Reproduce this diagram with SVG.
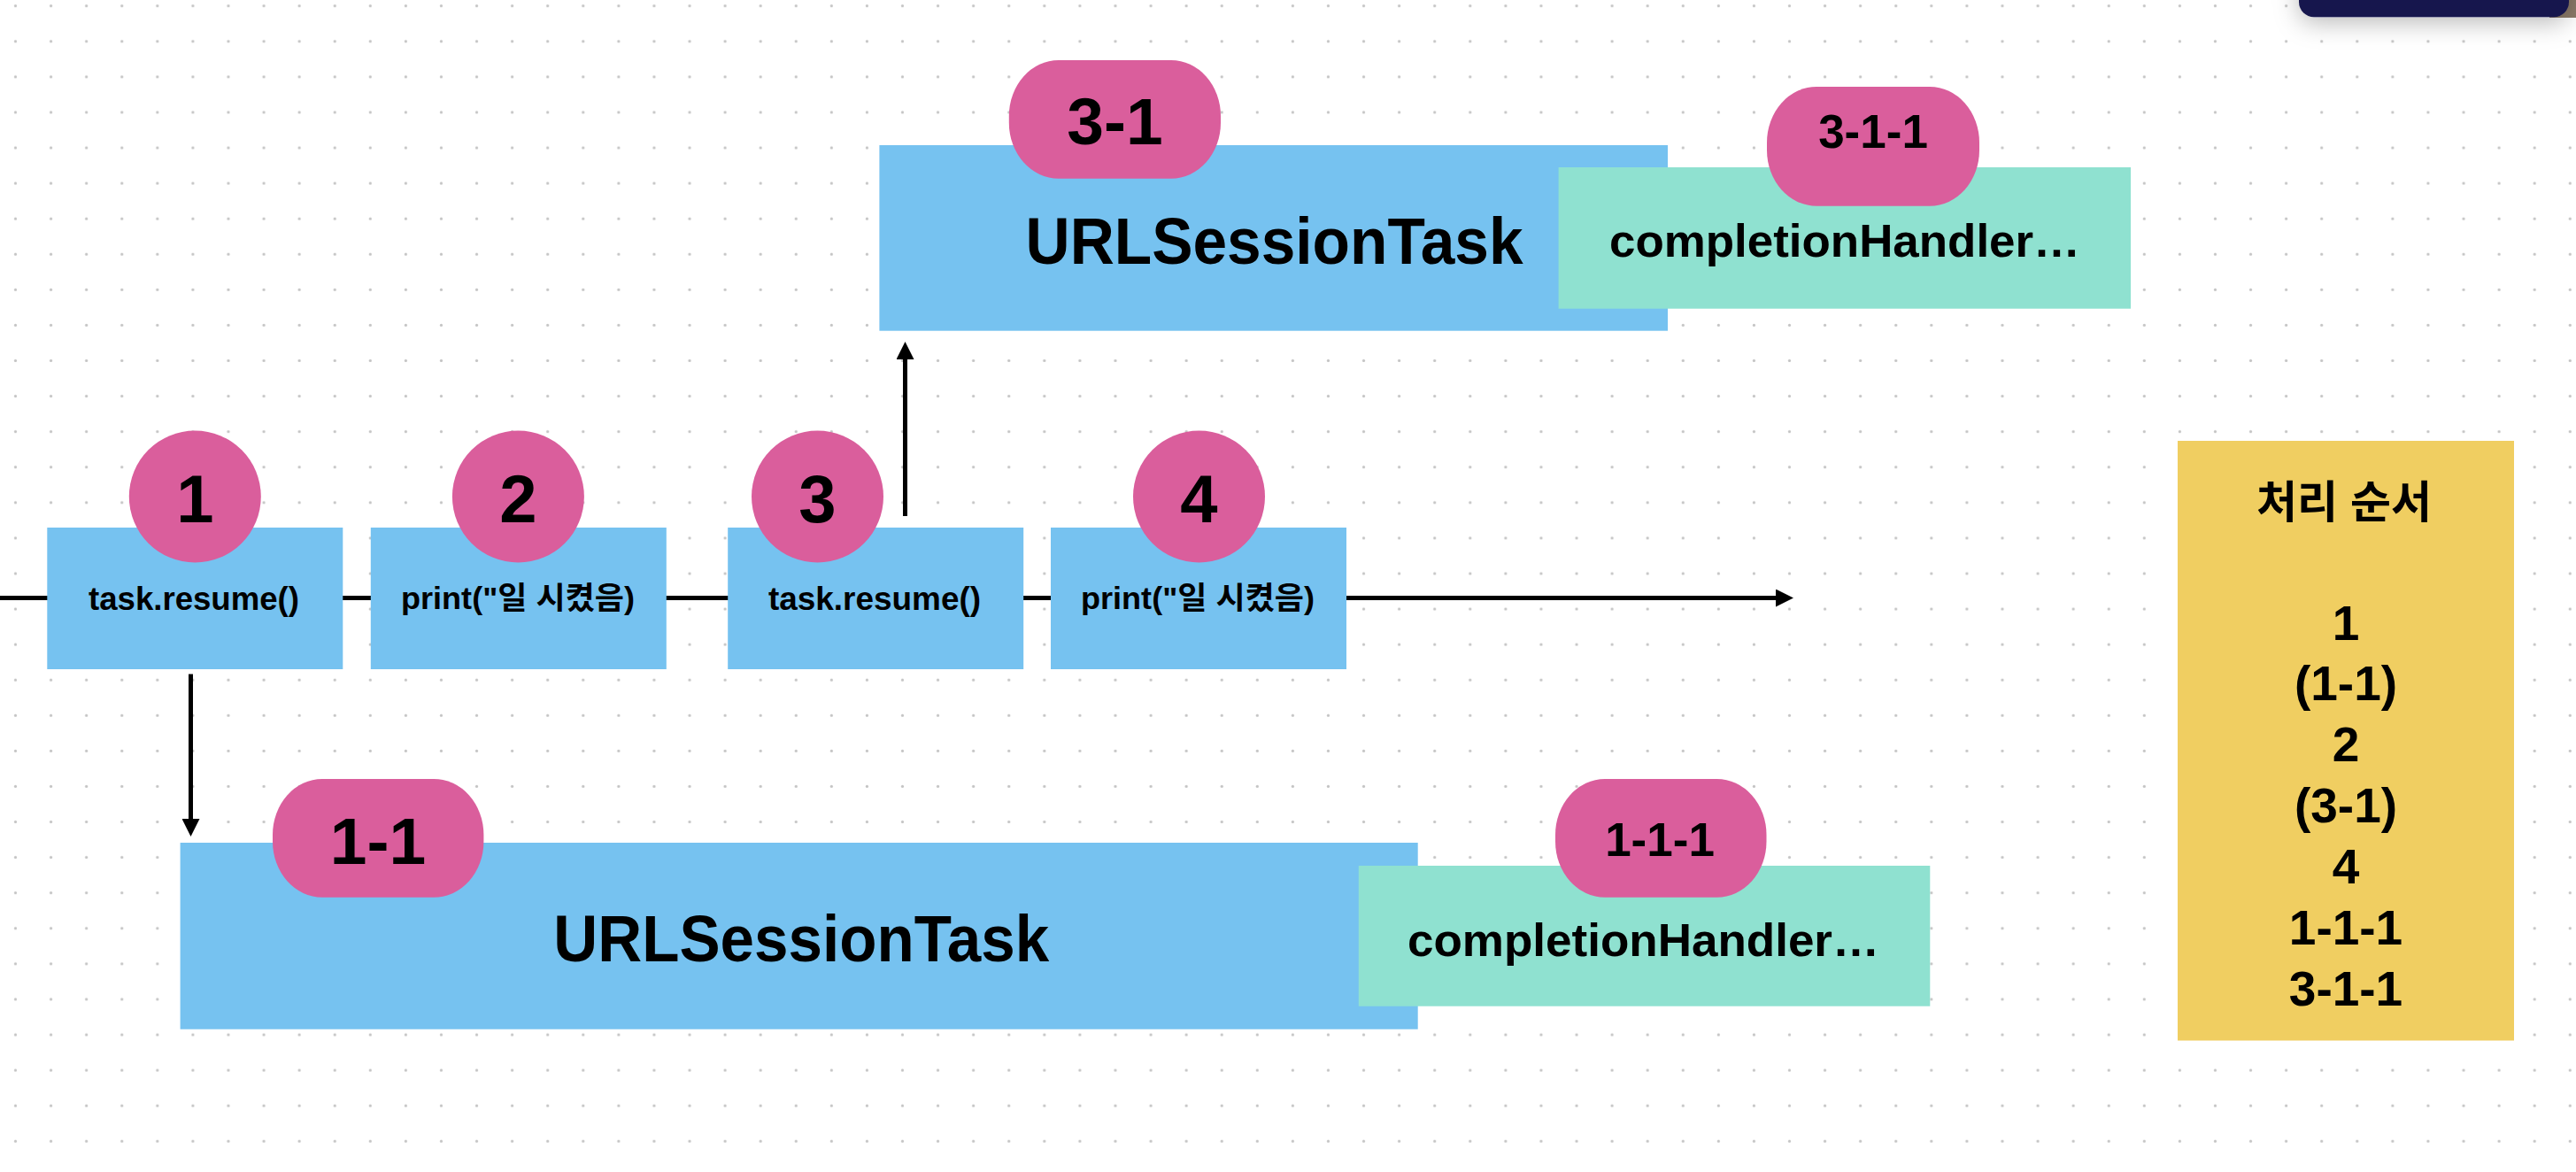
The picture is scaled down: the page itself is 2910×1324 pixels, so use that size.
<svg xmlns="http://www.w3.org/2000/svg" width="2910" height="1324" viewBox="0 0 2910 1324">
<style>
  text { font-family: "Liberation Sans", "Noto Sans CJK KR", sans-serif; font-weight: bold; fill: #000; text-anchor: middle; }
  .blue { fill: #76C2F0; }
  .pink { fill: #DA5E9C; }
  .teal { fill: #8FE1D0; }
  .yellow { fill: #F0CE61; }
  .num { font-size: 76px; }
  .tag { font-size: 75px; }
  .tagsm { font-size: 53px; }
  .big { font-size: 75px; }
  .handler { font-size: 52px; }
  .code { font-size: 36px; }
  .code2 { font-size: 35px; }
  .order { font-size: 55px; }
  .title { font-size: 50px; }
  .line { stroke: #000; stroke-width: 5; fill: none; }
</style>
<defs>
  <pattern id="dots" patternUnits="userSpaceOnUse" x="-2.5" y="-13.3" width="40.08" height="40.08">
    <circle cx="20" cy="20" r="1.6" fill="#c4c4c4"/>
  </pattern>
  <marker id="arrow" viewBox="0 0 20 20" refX="0" refY="10" markerUnits="userSpaceOnUse" markerWidth="20" markerHeight="20" orient="auto">
    <path d="M0,0 L20,10 L0,20 Z" fill="#000"/>
  </marker>
  <filter id="shadow" x="-20%" y="-100%" width="140%" height="400%">
    <feDropShadow dx="0" dy="6" stdDeviation="14" flood-color="#000" flood-opacity="0.28"/>
  </filter>
</defs>

<rect width="2910" height="1324" fill="#ffffff"/>
<rect width="2910" height="1324" fill="url(#dots)"/>

<g id="toolbar">
  <rect x="2880" y="-10" width="40" height="30" fill="#8c7b69"/>
  <rect x="2597" y="-40" width="305" height="59.3" rx="17" fill="#17174d" filter="url(#shadow)"/>
</g>

<g id="connectors">
  <line class="line" x1="0" y1="675.5" x2="2006" y2="675.5" marker-end="url(#arrow)"/>
  <line class="line" x1="1022.5" y1="583" x2="1022.5" y2="406" marker-end="url(#arrow)"/>
  <line class="line" x1="215.5" y1="761.5" x2="215.5" y2="925" marker-end="url(#arrow)"/>
</g>

<g id="node-1">
  <rect class="blue" x="53.3" y="596" width="334" height="160"/>
  <circle class="pink" cx="220.3" cy="561" r="74.5"/>
  <text class="num" x="220.3" y="589.5">1</text>
  <text class="code" x="219" y="689" textLength="238" lengthAdjust="spacingAndGlyphs">task.resume()</text>
</g>

<g id="node-2">
  <rect class="blue" x="418.8" y="596" width="334" height="160"/>
  <circle class="pink" cx="585.4" cy="561" r="74.5"/>
  <text class="num" x="585.4" y="589.5">2</text>
  <text class="code2" x="585" y="688" textLength="264" lengthAdjust="spacingAndGlyphs">print("일 시켰음)</text>
</g>

<g id="node-3">
  <rect class="blue" x="822.2" y="596" width="334" height="160"/>
  <circle class="pink" cx="923.5" cy="561" r="74.5"/>
  <text class="num" x="923.5" y="589.5">3</text>
  <text class="code" x="988" y="689" textLength="240" lengthAdjust="spacingAndGlyphs">task.resume()</text>
</g>

<g id="node-4">
  <rect class="blue" x="1187" y="596" width="334" height="160"/>
  <circle class="pink" cx="1354.5" cy="561" r="74.5"/>
  <text class="num" x="1354.5" y="589.5">4</text>
  <text class="code2" x="1353" y="688" textLength="264" lengthAdjust="spacingAndGlyphs">print("일 시켰음)</text>
</g>

<g id="task-3-1">
  <rect class="blue" x="993.4" y="164" width="890.6" height="209.7"/>
  <text class="big" x="1439.5" y="297.7" textLength="562" lengthAdjust="spacingAndGlyphs">URLSessionTask</text>
  <rect class="pink" x="1139.8" y="68" width="239.2" height="133.7" rx="56" ry="63"/>
  <text class="tag" x="1259.5" y="163.3">3-1</text>
</g>

<g id="handler-3-1-1">
  <rect class="teal" x="1760.6" y="189" width="646.4" height="159.7"/>
  <text class="handler" x="2084" y="290" textLength="532" lengthAdjust="spacingAndGlyphs">completionHandler…</text>
  <rect class="pink" x="1996" y="98" width="240" height="134.7" rx="56" ry="63"/>
  <text class="tagsm" x="2116" y="166.7">3-1-1</text>
</g>

<g id="task-1-1">
  <rect class="blue" x="203.6" y="952" width="1398.1" height="210.7"/>
  <text class="big" x="905.3" y="1086" textLength="560" lengthAdjust="spacingAndGlyphs">URLSessionTask</text>
  <rect class="pink" x="308" y="880" width="238.4" height="133.7" rx="56" ry="63"/>
  <text class="tag" x="427" y="975.7">1-1</text>
</g>

<g id="handler-1-1-1">
  <rect class="teal" x="1534.8" y="978" width="645.5" height="158.7"/>
  <text class="handler" x="1856.5" y="1079.5" textLength="533" lengthAdjust="spacingAndGlyphs">completionHandler…</text>
  <rect class="pink" x="1757" y="880" width="238.5" height="133.7" rx="56" ry="63"/>
  <text class="tagsm" x="1875" y="967.3">1-1-1</text>
</g>

<g id="order-note">
  <rect class="yellow" x="2460" y="498" width="380" height="677.5"/>
  <text class="title" x="2648" y="584.7">처리 순서</text>
  <text class="order" x="2650" y="722.5">1</text>
  <text class="order" x="2650" y="791.4">(1-1)</text>
  <text class="order" x="2650" y="860.3">2</text>
  <text class="order" x="2650" y="929.2">(3-1)</text>
  <text class="order" x="2650" y="998.1">4</text>
  <text class="order" x="2650" y="1067">1-1-1</text>
  <text class="order" x="2650" y="1135.9">3-1-1</text>
</g>
</svg>
